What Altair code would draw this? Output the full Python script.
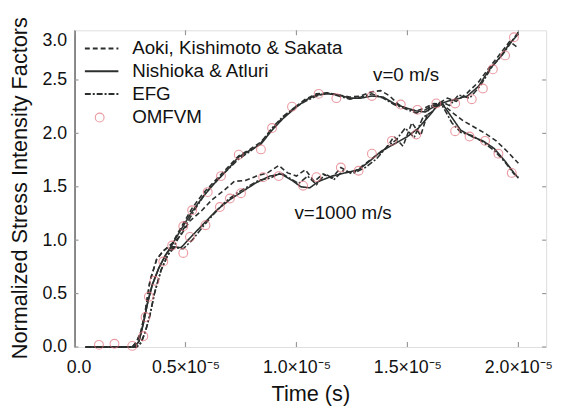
import altair as alt
import pandas as pd

# ---- data (time in units of 1e-5 s, K normalized) ----
series_names = ["Aoki, Kishimoto & Sakata", "Nishioka & Atluri", "EFG"]
point_name = "OMFVM"

# Nishioka & Atluri (solid)
nish_v0_t = [0.05,0.27,0.29,0.31,0.33,0.35,0.38,0.41,0.44,0.48,0.53,0.58,0.63,0.68,0.74,0.79,0.84,0.89,0.94,0.99,1.04,1.09,1.14,1.19,1.24,1.29,1.34,1.39,1.44,1.49,1.54,1.58,1.62,1.66,1.70,1.74,1.79,1.84,1.89,1.94,1.98,2.00]
nish_v0_K = [0,0,0.05,0.22,0.42,0.58,0.74,0.86,0.96,1.10,1.27,1.41,1.53,1.64,1.78,1.84,1.90,2.03,2.14,2.23,2.31,2.36,2.37,2.36,2.33,2.33,2.35,2.34,2.28,2.24,2.21,2.20,2.25,2.27,2.15,2.03,1.97,1.93,1.86,1.74,1.63,1.58]
nish_v1_t = [0.05,0.27,0.29,0.31,0.33,0.35,0.38,0.41,0.44,0.48,0.52,0.58,0.64,0.70,0.76,0.82,0.88,0.93,0.98,1.02,1.06,1.10,1.16,1.22,1.28,1.33,1.38,1.44,1.50,1.55,1.60,1.64,1.68,1.72,1.77,1.82,1.87,1.92,1.96,2.00]
nish_v1_K = [0,0,0.05,0.22,0.42,0.58,0.74,0.86,0.94,0.93,1.02,1.15,1.28,1.38,1.46,1.54,1.60,1.62,1.56,1.50,1.49,1.55,1.60,1.63,1.66,1.74,1.83,1.90,1.97,2.05,2.17,2.27,2.30,2.32,2.35,2.44,2.60,2.72,2.84,2.93]

# Aoki, Kishimoto & Sakata (dashed)
aoki_v0_t = [0.05,0.26,0.28,0.30,0.32,0.34,0.37,0.40,0.44,0.48,0.53,0.58,0.63,0.68,0.74,0.79,0.84,0.89,0.94,0.99,1.04,1.09,1.14,1.19,1.24,1.29,1.34,1.38,1.42,1.46,1.50,1.54,1.58,1.62,1.66,1.70,1.75,1.80,1.85,1.90,1.95,2.00]
aoki_v0_K = [0,0,0.05,0.15,0.35,0.62,0.82,0.90,0.97,1.12,1.30,1.44,1.55,1.66,1.79,1.85,1.92,2.04,2.15,2.24,2.32,2.37,2.38,2.36,2.34,2.35,2.39,2.40,2.35,2.27,2.23,2.21,2.24,2.28,2.27,2.20,2.12,2.06,2.00,1.93,1.83,1.72]
aoki_v1_t = [0.05,0.26,0.28,0.30,0.32,0.34,0.37,0.40,0.44,0.48,0.52,0.57,0.62,0.67,0.72,0.77,0.82,0.87,0.92,0.96,1.00,1.04,1.08,1.12,1.16,1.20,1.25,1.30,1.35,1.40,1.44,1.48,1.52,1.56,1.60,1.64,1.68,1.72,1.77,1.82,1.87,1.92,1.96,2.00]
aoki_v1_K = [0,0,0.05,0.15,0.35,0.62,0.82,0.90,0.96,1.05,1.18,1.27,1.38,1.46,1.55,1.56,1.60,1.63,1.70,1.63,1.60,1.66,1.55,1.62,1.58,1.68,1.62,1.70,1.78,1.85,1.97,1.88,2.10,1.98,2.25,2.28,2.33,2.30,2.38,2.48,2.62,2.75,2.86,2.80]

# EFG (dash-dot)
efg_v0_t = [0.05,0.28,0.30,0.32,0.34,0.36,0.39,0.42,0.45,0.49,0.54,0.59,0.64,0.69,0.74,0.79,0.84,0.89,0.94,0.99,1.04,1.09,1.14,1.19,1.24,1.29,1.34,1.39,1.44,1.49,1.54,1.58,1.62,1.66,1.70,1.74,1.79,1.84,1.89,1.94,1.98,2.00]
efg_v0_K = [0,0,0.04,0.15,0.30,0.50,0.72,0.86,0.95,1.10,1.28,1.44,1.56,1.66,1.76,1.83,1.91,2.05,2.16,2.24,2.30,2.35,2.38,2.35,2.32,2.34,2.37,2.33,2.27,2.23,2.19,2.22,2.27,2.25,2.10,2.01,1.98,1.92,1.84,1.73,1.62,1.59]
efg_v1_t = [0.05,0.28,0.30,0.32,0.34,0.36,0.39,0.42,0.45,0.49,0.53,0.58,0.63,0.68,0.73,0.78,0.83,0.88,0.93,0.97,1.01,1.05,1.09,1.13,1.17,1.21,1.26,1.31,1.36,1.41,1.45,1.49,1.53,1.57,1.61,1.65,1.69,1.73,1.78,1.83,1.88,1.93,1.97,2.00]
efg_v1_K = [0,0,0.04,0.15,0.30,0.50,0.72,0.86,0.93,0.92,1.00,1.13,1.25,1.36,1.44,1.50,1.56,1.58,1.63,1.58,1.53,1.60,1.52,1.62,1.57,1.65,1.63,1.68,1.76,1.88,1.94,2.05,1.96,2.15,2.20,2.30,2.26,2.36,2.33,2.45,2.62,2.74,2.86,2.95]

# OMFVM (circles)
omf_v0_t = [0.11,0.18,0.26,0.31,0.32,0.335,0.36,0.40,0.44,0.49,0.53,0.60,0.66,0.74,0.84,0.89,0.98,1.10,1.18,1.34,1.47,1.545,1.63,1.715,1.78,1.85,1.91,1.97]
omf_v0_K = [0.02,0.03,0.01,0.10,0.28,0.47,0.62,0.80,0.95,1.13,1.28,1.45,1.60,1.80,1.85,2.05,2.25,2.37,2.33,2.35,2.27,2.22,2.28,2.02,1.97,1.93,1.81,1.63]
omf_v1_t = [0.49,0.52,0.59,0.655,0.70,0.75,0.85,0.92,1.03,1.09,1.20,1.28,1.34,1.43,1.54,1.715,1.79,1.84,1.885,1.94,1.98]
omf_v1_K = [0.88,1.03,1.14,1.31,1.39,1.44,1.59,1.60,1.51,1.59,1.68,1.65,1.81,1.93,1.99,2.28,2.32,2.42,2.60,2.73,2.90]

# annotations
ann_text = ["v=0 m/s", "v=1000 m/s"]
ann_t = [1.494, 1.21]
ann_K = [2.546, 1.255]

# axes
x_ticks = [0, 0.5, 1.0, 1.5, 2.0]
x_max = 2.125
y_ticks = [0, 0.5, 1.0, 1.5, 2.0, 2.5]
y_max = 2.965

# ---- build tables ----
rows = []
def add(name, case, ts, ks):
    for t, k in zip(ts, ks):
        rows.append({"t": t, "K": k, "method": name, "case": case})

add(series_names[0], "v0", aoki_v0_t, aoki_v0_K)
add(series_names[0], "v1", aoki_v1_t, aoki_v1_K)
add(series_names[1], "v0", nish_v0_t, nish_v0_K)
add(series_names[1], "v1", nish_v1_t, nish_v1_K)
add(series_names[2], "v0", efg_v0_t, efg_v0_K)
add(series_names[2], "v1", efg_v1_t, efg_v1_K)
lines_df = pd.DataFrame(rows)

pts_df = pd.DataFrame({
    "t": omf_v0_t + omf_v1_t,
    "K": omf_v0_K + omf_v1_K,
    "pmethod": [point_name] * (len(omf_v0_t) + len(omf_v1_t)),
})
ann_df = pd.DataFrame({"t": ann_t, "K": ann_K, "label": ann_text})
xt_df = pd.DataFrame({"t": x_ticks})
yt_df = pd.DataFrame({"K": y_ticks})

FONT = "Liberation Sans"
W, H = 478.5, 321.3

xscale = alt.Scale(domain=[0, x_max], nice=False, zero=False)
yscale = alt.Scale(domain=[0, y_max], nice=False, zero=False)

x_enc = alt.X("t:Q", scale=xscale, axis=alt.Axis(
    values=x_ticks, title="Time (s)", ticks=False, domain=False, grid=False,
    labelExpr="datum.value == 0 ? '0.0' : format(datum.value, '.1f') + '×10⁻⁵'",
    labelFontSize=18, labelFont=FONT, labelColor="#111", labelPadding=12,
    labelFlush=False,
    labelOffset={"condition": {"test": "datum.value == 0", "value": 4}, "value": 0},
    titleFontSize=22, titleFont=FONT, titleFontWeight="normal", titleColor="#111",
    titleY=47, titleBaseline="middle",
))
y_enc = alt.Y("K:Q", scale=yscale, axis=alt.Axis(
    values=y_ticks + [y_max], title="Normalized Stress Intensity Factors",
    ticks=False, domain=True, domainColor="#222", grid=False,
    labelExpr="datum.value > 2.9 ? '3.0' : format(datum.value, '.1f')",
    labelOffset={"condition": {"test": "datum.value > 2.9", "value": 10}, "value": 0},
    labelFontSize=18, labelFont=FONT, labelColor="#111", labelPadding=8,
    labelFlush=False,
    titleFontSize=22, titleFont=FONT, titleFontWeight="normal", titleColor="#111",
    titleAngle=270, titleX=-56, titleY=H / 2 - 1, titleBaseline="middle", titleAlign="center",
))

lines = alt.Chart(lines_df).mark_line(color="#2b2f2d", strokeWidth=1.6).encode(
    x=x_enc, y=y_enc,
    strokeDash=alt.StrokeDash("method:N",
        scale=alt.Scale(domain=series_names, range=[[5, 3], [1, 0], [6, 2, 2, 2]]),
        legend=alt.Legend(title=None, orient="none", legendX=16.5, legendY=7.5,
                          symbolType="M-1.7,0H1.7", symbolSize=400, symbolStrokeWidth=2,
                          symbolStrokeColor="#2b2f2d", labelFontSize=19, labelFont=FONT,
                          labelColor="#111", labelOffset=20, rowPadding=2.1, padding=0,
                          labelLimit=400)),
    detail="case:N",
    order="t:Q",
)

points = alt.Chart(pts_df).mark_point(shape="circle", filled=False, color="#e2707a",
                                      size=80, strokeWidth=1.1).encode(
    x="t:Q", y="K:Q",
    shape=alt.Shape("pmethod:N", scale=alt.Scale(domain=[point_name], range=["circle"]),
        legend=alt.Legend(title=None, orient="none", legendX=16, legendY=79,
                          symbolStrokeColor="#e2707a", symbolFillColor="transparent",
                          symbolSize=80, symbolStrokeWidth=1.1,
                          labelFontSize=19, labelFont=FONT, labelColor="#111",
                          labelOffset=23.5, padding=0)),
)

ann = alt.Chart(ann_df).mark_text(fontSize=19, font=FONT, color="#111").encode(
    x="t:Q", y="K:Q", text="label:N")

tick_color = "#999"
xt_bot = alt.Chart(xt_df).mark_rule(color=tick_color, strokeWidth=1.2).encode(
    x="t:Q", y=alt.value(H), y2=alt.value(H - 5))
xt_top = alt.Chart(xt_df).mark_rule(color=tick_color, strokeWidth=1.2).encode(
    x="t:Q", y=alt.value(0), y2=alt.value(5))
yt_left = alt.Chart(yt_df).mark_rule(color=tick_color, strokeWidth=1.2).encode(
    y="K:Q", x=alt.value(0), x2=alt.value(4))
yt_right = alt.Chart(yt_df).mark_rule(color=tick_color, strokeWidth=1.2).encode(
    y="K:Q", x=alt.value(W), x2=alt.value(W - 4))

chart = alt.layer(xt_bot, xt_top, yt_left, yt_right, lines, points, ann).resolve_legend(
    strokeDash="independent", shape="independent"
).properties(
    width=W, height=H,
    autosize=alt.AutoSizeParams(type="none"),
    padding={"left": 67.5, "top": 19.7, "right": 9, "bottom": 60},
).configure_view(stroke="#9a9a9a", strokeWidth=1.2).configure(background="white")

chart.save("out.html", embed_options={"renderer": "svg", "actions": False})
